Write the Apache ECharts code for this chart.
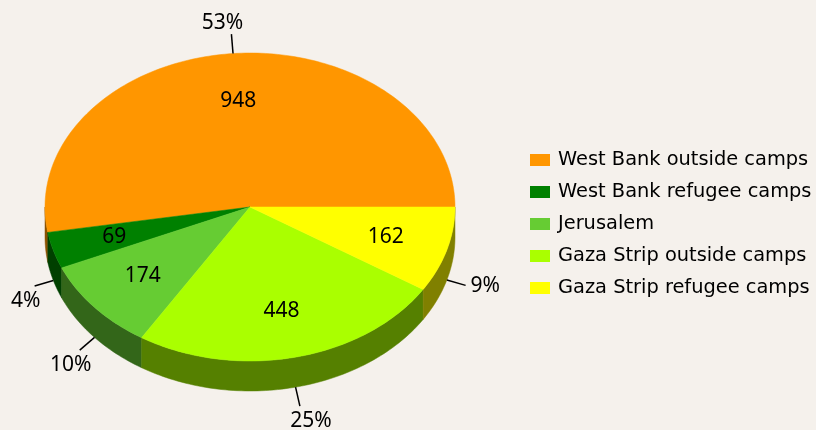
<!DOCTYPE html>
<html>
<head>
<meta charset="utf-8">
<script src="https://cdn.jsdelivr.net/npm/echarts@6/dist/echarts.min.js"></script>
<style>
html, body { margin: 0; padding: 0; background: #f5f1ec; }
#chart { width: 816px; height: 430px; }
</style>
</head>
<body>
<div id="chart"></div>
<script>
// data
const categories = ['West Bank outside camps', 'West Bank refugee camps', 'Jerusalem', 'Gaza Strip outside camps', 'Gaza Strip refugee camps']
const values = [948, 69, 174, 448, 162]

// styles
const colors = ['#ff9600', '#008000', '#66cc33', '#aaff00', '#ffff00']
const sideColors = ['#8a5200', '#004000', '#336619', '#558000', '#808000']
const FONT = '"Noto Sans", sans-serif'

// fake 3d pie geometry (ellipse top + front wall)
const cx = 250, cy = 207, rx = 205, ry = 154, depth = 30
const total = values.reduce((a, b) => a + b, 0)
const starts = []
let acc = 0
values.forEach(v => { starts.push(acc / total * Math.PI * 2); acc += v })

function pt(a, dy, f) {
  f = f || 1
  return [cx + rx * f * Math.cos(a), cy - ry * f * Math.sin(a) + (dy || 0)]
}
function arc(a0, a1, dy) {
  const n = Math.max(2, Math.ceil(Math.abs(a1 - a0) / 0.02))
  const pts = []
  for (let k = 0; k <= n; k++) pts.push(pt(a0 + (a1 - a0) * k / n, dy))
  return pts
}

function slice(i, v) {
  const a0 = starts[i]
  const a1 = a0 + v / total * Math.PI * 2
  const m = (a0 + a1) / 2
  const children = []
  // front wall, only the lower half shows
  const s = Math.max(a0, Math.PI), e = Math.min(a1, Math.PI * 2)
  if (e > s) {
    children.push({
      type: 'polygon',
      shape: { points: arc(s, e, 0).concat(arc(e, s, depth)) },
      style: { fill: sideColors[i], stroke: sideColors[i], lineWidth: 0.5 }
    })
  }
  children.push({
    type: 'polygon',
    shape: { points: [[cx, cy]].concat(arc(a0, a1, 0)) },
    style: { fill: colors[i], stroke: colors[i], lineWidth: 0.5 }
  })
  const lp = pt(m, 0, 0.69)
  children.push({
    type: 'text', z2: 100, x: lp[0], y: lp[1],
    style: { text: String(v), fill: '#000', fontSize: 21, fontFamily: FONT, align: 'center', verticalAlign: 'middle' }
  })
  // leader line + percent
  const dx = Math.cos(m), dy = -Math.sin(m)
  const p0 = pt(m, dy > 0 ? depth : 0)
  const p1 = [p0[0] + dx * 19.5, p0[1] + dy * 19.5]
  children.push({
    type: 'line', z2: 100,
    shape: { x1: p0[0], y1: p0[1], x2: p1[0], y2: p1[1] },
    style: { stroke: '#000', lineWidth: 1.5 }
  })
  const side = dx > 0.9
  children.push({
    type: 'text', z2: 100,
    x: side ? p1[0] + 5 : p1[0] + (dx < 0 ? -9 : 11),
    y: side ? p1[1] + 1 : p1[1] + (dy > 0 ? 15 : -11),
    style: {
      text: Math.round(v / total * 100) + '%', fill: '#000', fontSize: 21, fontFamily: FONT,
      align: side ? 'left' : 'center', verticalAlign: 'middle'
    }
  })
  return { type: 'group', children }
}

const chart = echarts.init(document.getElementById('chart'))
chart.setOption({
  animation: false,
  backgroundColor: '#f5f1ec',
  legend: {
    orient: 'vertical',
    left: 530,
    top: 150,
    padding: 0,
    icon: 'rect',
    itemWidth: 20,
    itemHeight: 12,
    itemGap: 12,
    selectedMode: false,
    textStyle: { fontSize: 19.4, color: '#000', fontFamily: '"DejaVu Sans", sans-serif', lineHeight: 20, padding: [0, 0, 0, 3] }
  },
  series: categories.map((name, i) => ({
    type: 'custom',
    name,
    coordinateSystem: 'none',
    itemStyle: { color: colors[i] },
    data: [[values[i]]],
    renderItem: (params, api) => slice(i, api.value(0))
  }))
})
</script>
</body>
</html>
